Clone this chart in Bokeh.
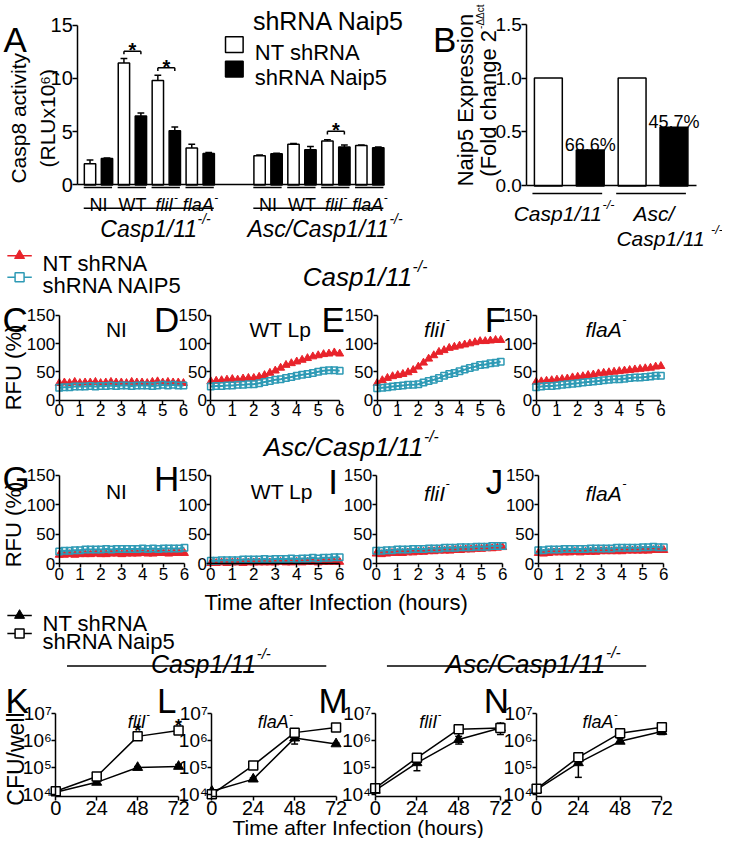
import numpy as np
from bokeh.plotting import figure
from bokeh.models import (Range1d, LinearAxis, LogAxis, LinearScale, LogScale,
                          FixedTicker, NumeralTickFormatter)
from bokeh.core.properties import value
from bokeh.embed import file_html
from bokeh.resources import INLINE

FONT = "Liberation Sans"
RED = "#E8232B"
TEAL = "#2E9AB5"

# ---------------- Panel A : Casp8 activity (RLU x10^6) ----------------
a_groups = ["Casp1/11", "Asc/Casp1/11"]
a_cats = ["NI", "WT", "fliI", "flaA"]
a_cat_sup = ["", "", "-", "-"]
a_cat_italic = [False, False, True, True]
a_nt = [2.0, 11.45, 9.8, 3.47, 2.75, 3.83, 4.12, 3.7]
a_nt_err = [0.35, 0.4, 0.5, 0.35, 0.05, 0.06, 0.12, 0.05]
a_kd = [2.48, 6.47, 5.08, 2.95, 2.92, 3.3, 3.55, 3.5]
a_kd_err = [0.05, 0.28, 0.35, 0.1, 0.05, 0.3, 0.2, 0.06]
a_sig_pair = [1, 2, 6]
a_sig_y = [12.55, 11.0, 5.03]

# ---------------- Panel B : Naip5 expression ----------------
b_groups = ["Casp1/11", "Asc/Casp1/11"]
b_nt = [1.0, 1.0]
b_kd = [0.334, 0.543]
b_kd_label = ["66.6%", "45.7%"]

# ---------------- Panels C-J : RFU (%) over time ----------------
t_hours = [0, 0.25, 0.5, 0.75, 1, 1.25, 1.5, 1.75, 2, 2.25, 2.5, 2.75, 3,
           3.25, 3.5, 3.75, 4, 4.25, 4.5, 4.75, 5, 5.25, 5.5, 5.75, 6]
C_nt = [30, 31, 30, 32, 30, 31, 31, 32, 30, 31, 32, 31, 31, 30, 32, 31, 31, 30, 32, 33, 31, 32, 31, 31, 30]
C_kd = [22, 23, 23, 24, 24, 24, 25, 24, 25, 25, 26, 25, 26, 26, 25, 26, 26, 26, 25, 26, 27, 26, 27, 26, 26]
D_nt = [33, 34, 35, 36, 37, 36, 38, 39, 39, 41, 44, 48, 52, 57, 62, 65, 68, 71, 74, 77, 79, 81, 82, 84, 82]
D_kd = [24, 25, 25, 26, 26, 27, 27, 28, 28, 30, 32, 34, 36, 37, 39, 41, 43, 45, 46, 48, 50, 52, 53, 53, 52]
E_nt = [30, 35, 39, 42, 44, 46, 49, 53, 59, 66, 73, 79, 85, 88, 92, 94, 96, 98, 100, 102, 104, 104, 105, 106, 106]
E_kd = [21, 22, 23, 24, 25, 26, 27, 27, 28, 31, 34, 36, 39, 43, 46, 48, 51, 54, 57, 59, 62, 63, 65, 66, 68]
F_nt = [32, 33, 34, 35, 36, 37, 38, 40, 41, 42, 44, 45, 47, 48, 49, 50, 51, 52, 53, 54, 55, 56, 57, 59, 60]
F_kd = [23, 24, 25, 25, 26, 27, 28, 29, 30, 31, 32, 33, 34, 35, 36, 37, 37, 38, 39, 40, 40, 41, 42, 43, 43]
G_nt = [15, 15, 16, 15, 16, 16, 16, 17, 16, 16, 17, 17, 16, 17, 17, 17, 18, 17, 17, 18, 18, 17, 18, 18, 18]
G_kd = [21, 22, 22, 23, 23, 24, 24, 24, 24, 25, 24, 25, 25, 25, 25, 25, 26, 25, 26, 25, 26, 26, 26, 26, 27]
H_nt = [1, 1, 2, 1, 2, 2, 1, 2, 2, 2, 2, 2, 2, 3, 2, 2, 3, 2, 3, 3, 2, 3, 3, 3, 3]
H_kd = [5, 5, 6, 6, 6, 6, 7, 7, 7, 7, 8, 7, 8, 8, 8, 9, 8, 9, 9, 10, 9, 10, 10, 11, 11]
I_nt = [17, 16, 17, 18, 18, 18, 19, 19, 20, 20, 21, 21, 22, 22, 22, 23, 23, 24, 24, 25, 25, 26, 26, 27, 28]
I_kd = [22, 22, 23, 23, 24, 24, 24, 25, 25, 25, 26, 26, 26, 27, 27, 27, 28, 28, 28, 29, 29, 29, 30, 30, 30]
J_nt = [18, 17, 18, 19, 19, 19, 19, 20, 19, 20, 20, 20, 21, 21, 21, 21, 21, 22, 22, 22, 22, 22, 23, 23, 23]
J_kd = [23, 23, 24, 24, 24, 25, 25, 25, 25, 25, 26, 26, 26, 26, 26, 27, 27, 27, 27, 27, 28, 28, 29, 28, 28]

# ---------------- Panels K-N : CFU / well ----------------
cfu_t = [0, 24, 48, 72]
K_nt = [1.2e4, 2.8e4, 1.0e5, 1.1e5]
K_nt_lo = [1.1e4, 2.5e4, 0.9e5, 0.95e5]
K_nt_hi = [1.35e4, 3.1e4, 1.1e5, 1.3e5]
K_kd = [1.3e4, 4.6e4, 1.45e6, 2.4e6]
L_nt = [1.3e4, 3.7e4, 1.25e6, 7.6e5]
L_nt_lo = [1.2e4, 3.3e4, 7.5e5, 7.0e5]
L_nt_hi = [1.45e4, 4.1e4, 1.6e6, 8.2e5]
L_kd = [1.0e4, 1.2e5, 2.0e6, 3.1e6]
M_nt = [1.4e4, 1.5e5, 1.1e6, 3.0e6]
M_nt_lo = [1.3e4, 7.6e4, 7.5e5, 1.7e6]
M_nt_hi = [1.55e4, 3.1e5, 1.45e6, 4.5e6]
M_kd = [1.7e4, 2.3e5, 2.7e6, 3.0e6]
N_nt = [1.5e4, 1.5e5, 9.5e5, 2.2e6]
N_nt_lo = [1.4e4, 4.3e4, 8.0e5, 1.7e6]
N_nt_hi = [1.6e4, 2.7e5, 1.2e6, 2.9e6]
N_kd = [1.6e4, 2.4e5, 1.9e6, 3.2e6]
K_sig_t = [48, 72]

# ======================================================================
REF_W, REF_H = 738, 854
p = figure(width=722, height=838, x_range=Range1d(0, REF_W), y_range=Range1d(REF_H, 0),
           x_axis_type=None, y_axis_type=None, toolbar_location=None,
           output_backend="svg", min_border_left=0, min_border_right=0,
           min_border_top=0, min_border_bottom=0, outline_line_color=None,
           background_fill_color="white", border_fill_color="white")

XR, YR, XS, YS = {}, {}, {}, {}


def lin(pa, va, pb, vb):
    k = (vb - va) / (pb - pa)
    return lambda px: va + (px - pa) * k


def logmap(pa, va, pb, vb):
    la, lb = np.log10(va), np.log10(vb)
    k = (lb - la) / (pb - pa)
    return lambda px: 10 ** (la + (px - pa) * k)


def set_x(name, f):
    XR[name] = Range1d(f(0), f(REF_W))
    XS[name] = LinearScale()


def set_y(name, f, log=False):
    YR[name] = Range1d(f(REF_H), f(0))
    YS[name] = LogScale() if log else LinearScale()


CW = {' ': 278, '(': 333, ')': 333, '/': 278, '-': 333, '%': 889, '.': 278,
      'A': 667, 'C': 722, 'E': 667, 'F': 611, 'I': 278, 'L': 556, 'N': 722,
      'R': 722, 'T': 611, 'U': 722, 'W': 944, 'a': 556, 'c': 500, 'd': 556,
      'e': 556, 'f': 278, 'g': 556, 'h': 556, 'i': 222, 'l': 222, 'm': 833,
      'n': 556, 'o': 556, 'p': 556, 'r': 333, 's': 500, 't': 278, 'u': 556,
      'v': 500, 'w': 722, 'x': 500, 'y': 500, '*': 389, 'Δ': 668}


def tw(s, size):
    return sum(CW.get(ch, 556) for ch in s) * size / 1000.0


def T(x, y, s, size, align="left", baseline="alphabetic", italic=False, angle=0.0,
      xr="default", yr="default", xo=0.0, yo=0.0, color="black", bold=False):
    style = "italic" if italic else ("bold" if bold else "normal")
    p.text(x=[x], y=[y], text=[s], text_font=value(FONT), text_font_size=f"{size:.1f}px",
           text_font_style=style, text_align=align, text_baseline=baseline, angle=angle,
           text_color=color, x_offset=xo, y_offset=yo, x_range_name=xr, y_range_name=yr)


def RT(x, y, base, sup, size, align="left", italic=False, xr="default", yr="default",
       ss=0.6, rise=0.42):
    wb, ws = tw(base, size), tw(sup, size * ss)
    off = wb if align == "left" else (wb - ws) / 2.0
    T(x, y, base, size, "right", italic=italic, xr=xr, yr=yr, xo=off)
    if sup:
        T(x, y, sup, size * ss, "left", italic=italic, xr=xr, yr=yr, xo=off + 0.5,
          yo=-size * rise)


def axis(side, xn, yn, loc, bounds, ticks, fs=17, tick_out=5, log=False, fmt=None,
         overrides=None):
    cls = LogAxis if log else LinearAxis
    ax = cls(x_range_name=xn, y_range_name=yn, fixed_location=loc, bounds=bounds,
             ticker=FixedTicker(ticks=ticks), axis_line_width=1.5, axis_line_color="black",
             major_tick_line_width=1.5, major_tick_line_color="black",
             major_tick_out=tick_out, major_tick_in=0, minor_tick_line_color=None,
             major_label_text_font=FONT, major_label_text_font_size=f"{fs}px",
             major_label_standoff=0, major_label_text_color="black")
    if fmt is not None:
        ax.formatter = fmt
    if overrides is not None:
        ax.major_label_overrides = overrides
    if not ticks:
        ax.major_tick_line_color = None
        ax.major_label_text_font_size = "0px"
    p.add_layout(ax, side)


# ------------- mappings -------------
ax_ = lin(91.5, 0, 108.833, 1)
ay_ = lin(188, 0, 25, 15)
set_x("Ax", ax_)
set_y("Ay", ay_)
bx_ = lin(560, 0, 602.8, 1)
by_ = lin(189, 0, 24, 1.5)
set_x("Bx", bx_)
set_y("By", by_)
row1_y = lin(407.3, 0, 320.7, 150)
row2_y = lin(574, 0, 484, 150)
set_y("R1y", row1_y)
set_y("R2y", row2_y)

rfu_panels = [
    ("C", 60, 187, "R1y", C_nt, C_kd, (2, 325), ("NI", "", 118.5, 335, "center")),
    ("D", 215, 346.7, "R1y", D_nt, D_kd, (157, 325), ("WT Lp", "", 286, 335, "center")),
    ("E", 385, 511.3, "R1y", E_nt, E_kd, (328, 325), ("fliI", "-", 433, 335, "left")),
    ("F", 547.5, 675, "R1y", F_nt, F_kd, (495, 325), ("flaA", "-", 598, 335, "left")),
    ("G", 60, 188, "R2y", G_nt, G_kd, (2, 487), ("NI", "", 118.5, 500, "center")),
    ("H", 215, 346.7, "R2y", H_nt, H_kd, (157, 487), ("WT Lp", "", 287.5, 500, "center")),
    ("I", 384, 513.3, "R2y", I_nt, I_kd, (335, 490), ("fliI", "-", 433, 502, "left")),
    ("J", 549.7, 678, "R2y", J_nt, J_kd, (496, 490), ("flaA", "-", 598, 502, "left")),
]
for name, x0, x6, yn, _, _, _, _ in rfu_panels:
    set_x(name + "x", lin(x0, 0, x6, 6))

cfu_y = logmap(809, 1e4, 727, 1e7)
set_y("CFUy", cfu_y, log=True)
cfu_panels = [
    ("K", 56.5, 182, K_nt, K_nt_lo, K_nt_hi, K_kd, (5, 713), ("fliI", "-", 130, 735)),
    ("L", 216, 343, L_nt, L_nt_lo, L_nt_hi, L_kd, (160, 713), ("flaA", "-", 263, 735)),
    ("M", 383, 511, M_nt, M_nt_lo, M_nt_hi, M_kd, (325, 713), ("fliI", "-", 428, 735)),
    ("N", 548, 676, N_nt, N_nt_lo, N_nt_hi, N_kd, (494, 713), ("flaA", "-", 595, 735)),
]
for name, x0, x72, *_ in cfu_panels:
    set_x(name + "x", lin(x0, 0, x72, 72))

p.extra_x_ranges = XR
p.extra_y_ranges = YR
p.extra_x_scales = XS
p.extra_y_scales = YS

LETTER = 35

# ======================= Panel A =======================
a_slot_nt = [g * 10 + c * 2 for g in range(len(a_groups)) for c in range(len(a_cats))]
a_slot_kd = [s + 1 for s in a_slot_nt]
kw = dict(x_range_name="Ax", y_range_name="Ay")
p.vbar(x=a_slot_nt, top=a_nt, width=0.67, fill_color="white", line_color="black",
       line_width=1.5, **kw)
p.vbar(x=a_slot_kd, top=a_kd, width=0.67, fill_color="black", line_color="black",
       line_width=1.5, **kw)
for xs, vals, errs in ((a_slot_nt, a_nt, a_nt_err), (a_slot_kd, a_kd, a_kd_err)):
    tops = [v + e for v, e in zip(vals, errs)]
    p.segment(x0=xs, y0=vals, x1=xs, y1=tops, line_color="black", line_width=1.5, **kw)
    p.segment(x0=[x - 0.2 for x in xs], y0=tops, x1=[x + 0.2 for x in xs], y1=tops,
              line_color="black", line_width=1.5, **kw)
for i, yv in zip(a_sig_pair, a_sig_y):
    x0, x1 = a_slot_nt[i], a_slot_kd[i]
    p.segment(x0=[x0, x0, x1], y0=[yv, yv, yv], x1=[x1, x0, x1], y1=[yv, yv - 0.3, yv - 0.3],
              line_color="black", line_width=1.5, **kw)
    T((x0 + x1) / 2, yv, "*", 20, "center", "middle", xr="Ax", yr="Ay", yo=-1, bold=True)

axis("left", "Ax", "Ay", ax_(79), (0, 15), [0, 5, 10, 15], fs=20, tick_out=5)
axis("below", "Ax", "Ay", 0, (ax_(79), ax_(393)), [], fs=10)

for g in range(len(a_groups)):
    for c in range(len(a_cats)):
        i = g * len(a_cats) + c
        RT(a_slot_nt[i] + 0.5, ay_(208), a_cats[c], a_cat_sup[c], 18, align="center",
           italic=a_cat_italic[c], xr="Ax", yr="Ay", ss=0.65, rise=0.45)
p.segment(x0=[s - 0.37 for s in a_slot_nt], x1=[s + 0.3 for s in a_slot_kd],
          y0=[ay_(190.5)] * len(a_slot_nt), y1=[ay_(190.5)] * len(a_slot_nt),
          line_color="black", line_width=1.5, **kw)
g_x0 = [a_slot_nt[g * 4] - 0.37 for g in range(2)]
g_x1 = [a_slot_kd[g * 4 + 3] + 0.3 for g in range(2)]
p.segment(x0=g_x0, x1=g_x1, y0=[ay_(211.7)] * 2, y1=[ay_(211.7)] * 2,
          line_color="black", line_width=1.5, **kw)
for g in range(2):
    gx = (a_slot_nt[g * 4] + a_slot_kd[g * 4 + 3]) / 2
    wb, ws = tw(a_groups[g], 23), tw("-/-", 23 * 0.6)
    T(gx, ay_(233), a_groups[g], 23, "right", italic=True, xr="Ax", yr="Ay",
      xo=(wb - ws) / 2 + 5)
    T(gx, ay_(233), "-/-", 23 * 0.6, "left", italic=True, xr="Ax", yr="Ay",
      xo=(wb - ws) / 2 + 5.5, yo=-23 * 0.42)

T(3, 40, "A", LETTER)
T(258, 21, "shRNA Naip5", 25)
p.rect(x=[239, 239], y=[45, 70], width=18, height=16, fill_color=["white", "black"],
       line_color="black", line_width=1.5)
T(260, 53, "NT shRNA", 22)
T(260, 78, "shRNA Naip5", 22)
T(18, 120, "Casp8 activity", 21, "center", "middle", angle=np.pi / 2)
T(48, 120, "(RLUx10⁶)", 21, "center", "middle", angle=np.pi / 2)

# ======================= Panel B =======================
b_slot_nt = [0, 2]
b_slot_kd = [1, 3]
kwb = dict(x_range_name="Bx", y_range_name="By")
p.vbar(x=b_slot_nt, top=b_nt, width=0.666, fill_color="white", line_color="black",
       line_width=1.5, **kwb)
p.vbar(x=b_slot_kd, top=b_kd, width=0.666, fill_color="black", line_color="black",
       line_width=1.5, **kwb)
for x, v, s in zip(b_slot_kd, b_kd, b_kd_label):
    T(x, v, s, 18, "center", "alphabetic", xr="Bx", yr="By", yo=-5)
axis("left", "Bx", "By", bx_(538), (0, 1.5), [0, 0.5, 1.0, 1.5], fs=19, tick_out=5,
     fmt=NumeralTickFormatter(format="0.0"))
axis("below", "Bx", "By", 0, (bx_(538), bx_(711)), [], fs=10)
p.segment(x0=[s - 0.38 for s in b_slot_nt], x1=[s + 0.285 for s in b_slot_kd],
          y0=[by_(196.7)] * 2, y1=[by_(196.7)] * 2, line_color="black", line_width=1.5, **kwb)
RT(523, 217, "Casp1/11", "-/-", 21, italic=True)
T(647, 217, "Asc/", 21, italic=True)
RT(628, 243, "Casp1/11 ", "-/-", 21, italic=True)
T(442, 40, "B", LETTER)
T(475, 101.5, "Naip5 Expression", 22, "center", "middle", angle=np.pi / 2)
T(499, 30, "(Fold change 2", 22, "right", "middle", angle=np.pi / 2)
T(499, 30, "-ΔΔct", 10, "left", "middle", angle=np.pi / 2, xo=-8, yo=-1)

# ======================= Legend red/teal + title =======================
p.segment(x0=[7, 7], x1=[32, 32], y0=[260, 282], y1=[260, 282],
          line_color=[RED, TEAL], line_width=1.5)
p.scatter(x=[19.5], y=[260], marker="triangle", size=10, fill_color=RED, line_color=RED)
p.scatter(x=[19.5], y=[282], marker="square", size=9, fill_color="white", line_color=TEAL,
          line_width=1.5)
T(43, 268, "NT shRNA", 22)
T(43, 290, "shRNA NAIP5", 22)
RT(307, 282, "Casp1/11", "-/-", 26, italic=True)
RT(267, 455, "Asc/Casp1/11", "-/-", 26, italic=True)

# ======================= Panels C-J =======================
for name, x0, x6, yn, nt, kd, (lx, lb), (tb, ts, tx, tyb, talign) in rfu_panels:
    xn = name + "x"
    k2 = dict(x_range_name=xn, y_range_name=yn)
    p.line(t_hours, nt, line_color=RED, line_width=2, **k2)
    p.scatter(t_hours, nt, marker="triangle", size=8, fill_color=RED, line_color=RED, **k2)
    p.line(t_hours, kd, line_color=TEAL, line_width=2, **k2)
    p.scatter(t_hours, kd, marker="square", size=6.5, fill_color=None, line_color=TEAL,
              line_width=1.5, **k2)
    axis("left", xn, yn, 0, (0, 150), [0, 50, 100, 150], fs=17, tick_out=4)
    axis("below", xn, yn, 0, (0, 6), [0, 1, 2, 3, 4, 5, 6], fs=17, tick_out=4)
    T(lx, lb, name, LETTER)
    if ts:
        RT(tx, tyb, tb, ts, 21, align=talign, italic=True, ss=0.6, rise=0.45)
    else:
        T(tx, tyb, tb, 21, talign)
T(13.5, 374, "RFU (%)", 22, "center", "middle", angle=np.pi / 2)
T(13.5, 534, "RFU (%)", 22, "center", "middle", angle=np.pi / 2)
T(343, 613, "Time after Infection (hours)", 22, "center")

# ======================= Legend black + group titles =======================
p.segment(x0=[7, 7], x1=[32, 32], y0=[626.7, 645], y1=[626.7, 645],
          line_color="black", line_width=1.5)
p.scatter(x=[19.5], y=[626.7], marker="triangle", size=10, fill_color="black",
          line_color="black")
p.scatter(x=[19.5], y=[645], marker="square", size=9, fill_color="white",
          line_color="black", line_width=1.5)
T(43, 635, "NT shRNA", 22)
T(43, 653, "shRNA Naip5", 22)
RT(152, 676, "Casp1/11", "-/-", 25, italic=True)
RT(453, 676, "Asc/Casp1/11", "-/-", 26, italic=True)
p.segment(x0=[68, 395], x1=[333, 660], y0=[678.3, 678.3], y1=[678.3, 678.3],
          line_color="black", line_width=1.5)

# ======================= Panels K-N =======================
cfu_labels = {1e4: "10⁴", 1e5: "10⁵", 1e6: "10⁶", 1e7: "10⁷"}
for name, x0, x72, nt, lo, hi, kd, (lx, lb), (tb, ts, tx, tyb) in cfu_panels:
    xn = name + "x"
    k3 = dict(x_range_name=xn, y_range_name="CFUy")
    p.segment(x0=cfu_t, x1=cfu_t, y0=lo, y1=hi, line_color="black", line_width=1.5, **k3)
    p.segment(x0=[t - 2 for t in cfu_t], x1=[t + 2 for t in cfu_t], y0=lo, y1=lo,
              line_color="black", line_width=1.5, **k3)
    p.segment(x0=[t - 2 for t in cfu_t], x1=[t + 2 for t in cfu_t], y0=hi, y1=hi,
              line_color="black", line_width=1.5, **k3)
    p.line(cfu_t, nt, line_color="black", line_width=1.5, **k3)
    p.scatter(cfu_t, nt, marker="triangle", size=10, fill_color="black", line_color="black", **k3)
    p.line(cfu_t, kd, line_color="black", line_width=1.5, **k3)
    p.scatter(cfu_t, kd, marker="square", size=9, fill_color="white", line_color="black",
              line_width=1.5, **k3)
    axis("left", xn, "CFUy", 0, (cfu_y(811.7), 1e7), [1e4, 1e5, 1e6, 1e7], fs=19,
         tick_out=4, log=True, overrides=cfu_labels)
    axis("below", xn, "CFUy", cfu_y(811.7), (0, 72), [0, 24, 48, 72], fs=20, tick_out=4)
    T(lx, lb, name, LETTER)
    RT(tx, tyb, tb, ts, 18, italic=True, ss=0.6, rise=0.45)
    if name == "K":
        for t in K_sig_t:
            T(t, kd[cfu_t.index(t)], "*", 18, "center", "middle", xr=xn, yr="CFUy", yo=-5,
              bold=True)
T(15.5, 773, "CFU/well", 23, "center", "middle", angle=np.pi / 2)
T(365.5, 843, "Time after Infection (hours)", 21, "center")

html = file_html(p, INLINE, title="shRNA Naip5")
open("out.html", "w").write(html)
